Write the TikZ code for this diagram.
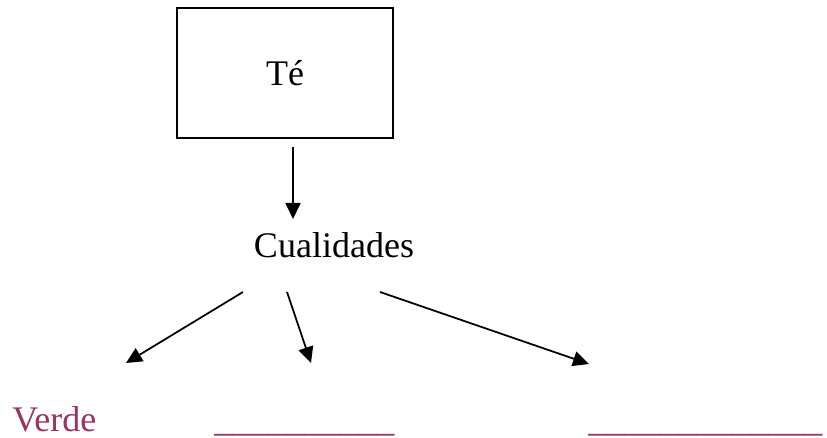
\documentclass[tikz,border=0pt]{standalone}
\usepackage{fontspec}
\setmainfont{Liberation Serif}
\usetikzlibrary{arrows.meta}
\definecolor{ciruela}{HTML}{993366}
\begin{document}
\begin{tikzpicture}[x=0.02cm,y=-0.02cm,
    font=\fontsize{20.5}{24}\selectfont,
    flecha/.style={-{Triangle[length=0.32cm,width=0.3cm]},line width=1pt},
    texto/.style={inner sep=0pt,anchor=base}]
  \useasboundingbox (0,0) rectangle (827,438);
  \node[draw,line width=1.1pt,minimum width=4.32cm,minimum height=2.6cm] (te) at (285,73) {Té};
  \node[texto] (cual) at (334,258) {Cualidades};
  \node[texto,anchor=base west,text=ciruela] (verde) at (12,431) {Verde};
  \node[texto,anchor=base west,text=ciruela] (hueco1) at (214,431) {\_\_\_\_\_\_\_\_\_\_};
  \node[texto,anchor=base west,text=ciruela] (hueco2) at (588,431) {\_\_\_\_\_\_\_\_\_\_\_\_\_};
  % puntas y salidas de las flechas
  \coordinate (te-sal) at (293,147);
  \coordinate (cual-ent) at (293,219);
  \coordinate (sal1) at (243,292);
  \coordinate (sal2) at (287,292);
  \coordinate (sal3) at (380,292);
  \coordinate (ent1) at (126,363);
  \coordinate (ent2) at (311,363);
  \coordinate (ent3) at (589,364);
  \draw[flecha] (te-sal) -- (cual-ent);
  \draw[flecha] (sal1) -- (ent1);
  \draw[flecha] (sal2) -- (ent2);
  \draw[flecha] (sal3) -- (ent3);
\end{tikzpicture}
\end{document}
